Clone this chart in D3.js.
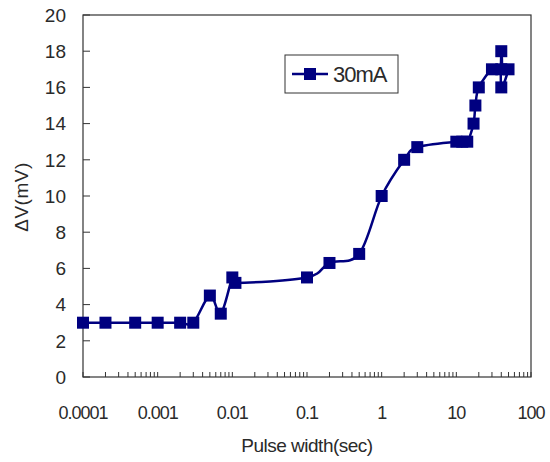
<!DOCTYPE html>
<html>
<head>
<meta charset="utf-8">
<script src="https://cdn.jsdelivr.net/npm/d3@7"></script>
<style>
  body { margin: 0; background: #fff; }
  text { font-family: "Liberation Sans", Arial, sans-serif; fill: #2a2a2a; }
</style>
</head>
<body>
<div id="chart"></div>
<script>
// pulse width (sec) and measured delta V (mV), in plotted order
const pulseWidth = [0.0001, 0.0002, 0.0005, 0.001, 0.002, 0.003, 0.005, 0.007, 0.01, 0.011,
  0.1, 0.2, 0.5, 1, 2, 3, 10, 12, 14, 17, 18, 20, 30, 40, 40, 40, 50];
const deltaV = [3, 3, 3, 3, 3, 3, 4.5, 3.5, 5.5, 5.2,
  5.5, 6.3, 6.8, 10, 12, 12.7, 13, 13, 13, 14, 15, 16, 17, 17, 18, 16, 17];
const seriesName = '30mA';
const xTickValues = [0.0001, 0.001, 0.01, 0.1, 1, 10, 100];
const xTickLabels = ['0.0001', '0.001', '0.01', '0.1', '1', '10', '100'];
const yTickValues = [0, 2, 4, 6, 8, 10, 12, 14, 16, 18, 20];

const width = 550, height = 462;
const margin = { top: 15, right: 19, bottom: 85, left: 83 };
const color = '#000080';

const svg = d3.select('#chart').append('svg')
  .attr('width', width)
  .attr('height', height);

const x = d3.scaleLog()
  .domain([0.0001, 100])
  .range([margin.left, width - margin.right]);
const y = d3.scaleLinear()
  .domain([0, 20])
  .range([height - margin.bottom, margin.top]);

// frame
svg.append('rect')
  .attr('x', x(0.0001))
  .attr('y', y(20))
  .attr('width', x(100) - x(0.0001))
  .attr('height', y(0) - y(20))
  .attr('fill', 'none')
  .attr('stroke', '#333')
  .attr('stroke-width', 1.2);

// x minor + major ticks, pointing inwards
const xMinor = [];
for (let e = -4; e < 2; e++) {
  for (let k = 1; k <= 9; k++) xMinor.push(k * Math.pow(10, e));
}
xMinor.push(100);
svg.append('g')
  .selectAll('line')
  .data(xMinor)
  .join('line')
  .attr('x1', d => x(d))
  .attr('x2', d => x(d))
  .attr('y1', y(0))
  .attr('y2', y(0) - 5)
  .attr('stroke', '#333')
  .attr('stroke-width', 1);

svg.append('g')
  .selectAll('text')
  .data(xTickValues)
  .join('text')
  .attr('x', d => x(d))
  .attr('y', 419)
  .attr('text-anchor', 'middle')
  .style('font-size', '18px')
  .style('letter-spacing', '-1px')
  .text((d, i) => xTickLabels[i]);

// y ticks
svg.append('g')
  .selectAll('line')
  .data(yTickValues)
  .join('line')
  .attr('x1', x(0.0001))
  .attr('x2', x(0.0001) + 7)
  .attr('y1', d => y(d))
  .attr('y2', d => y(d))
  .attr('stroke', '#333')
  .attr('stroke-width', 1);

svg.append('g')
  .selectAll('text')
  .data(yTickValues)
  .join('text')
  .attr('x', 66)
  .attr('y', d => y(d))
  .attr('dy', '0.36em')
  .attr('text-anchor', 'end')
  .style('font-size', '19px')
  .text(d => d);

// axis titles
svg.append('text')
  .attr('x', 307)
  .attr('y', 452)
  .attr('text-anchor', 'middle')
  .style('font-size', '19px')
  .style('letter-spacing', '-0.5px')
  .text('Pulse width(sec)');

svg.append('text')
  .attr('transform', 'translate(28,197) rotate(-90)')
  .attr('text-anchor', 'middle')
  .style('font-size', '19px')
  .style('letter-spacing', '0.5px')
  .text('ΔV(mV)');

// line + markers (uniform catmull-rom, like a spreadsheet "smoothed line")
const pts = pulseWidth.map((d, i) => [d, deltaV[i]]);
const line = d3.line()
  .x(d => x(d[0]))
  .y(d => y(d[1]))
  .curve(d3.curveCatmullRom.alpha(0));

svg.append('path')
  .datum(pts)
  .attr('d', line)
  .attr('fill', 'none')
  .attr('stroke', color)
  .attr('stroke-width', 2.5);

const ms = 12;
svg.append('g')
  .selectAll('rect')
  .data(pts)
  .join('rect')
  .attr('x', d => x(d[0]) - ms / 2)
  .attr('y', d => y(d[1]) - ms / 2)
  .attr('width', ms)
  .attr('height', ms)
  .attr('fill', color);

// legend
const lg = svg.append('g').attr('transform', 'translate(285,55)');
lg.append('rect')
  .attr('width', 113)
  .attr('height', 38)
  .attr('fill', '#fff')
  .attr('stroke', '#333')
  .attr('stroke-width', 1);
lg.append('line')
  .attr('x1', 7).attr('x2', 43)
  .attr('y1', 19).attr('y2', 19)
  .attr('stroke', color)
  .attr('stroke-width', 2.5);
lg.append('rect')
  .attr('x', 25 - ms / 2).attr('y', 19 - ms / 2)
  .attr('width', ms).attr('height', ms)
  .attr('fill', color);
lg.append('text')
  .attr('x', 48)
  .attr('y', 19)
  .attr('dy', '0.36em')
  .style('font-size', '22px')
  .style('letter-spacing', '-1px')
  .text(seriesName);
</script>
</body>
</html>
